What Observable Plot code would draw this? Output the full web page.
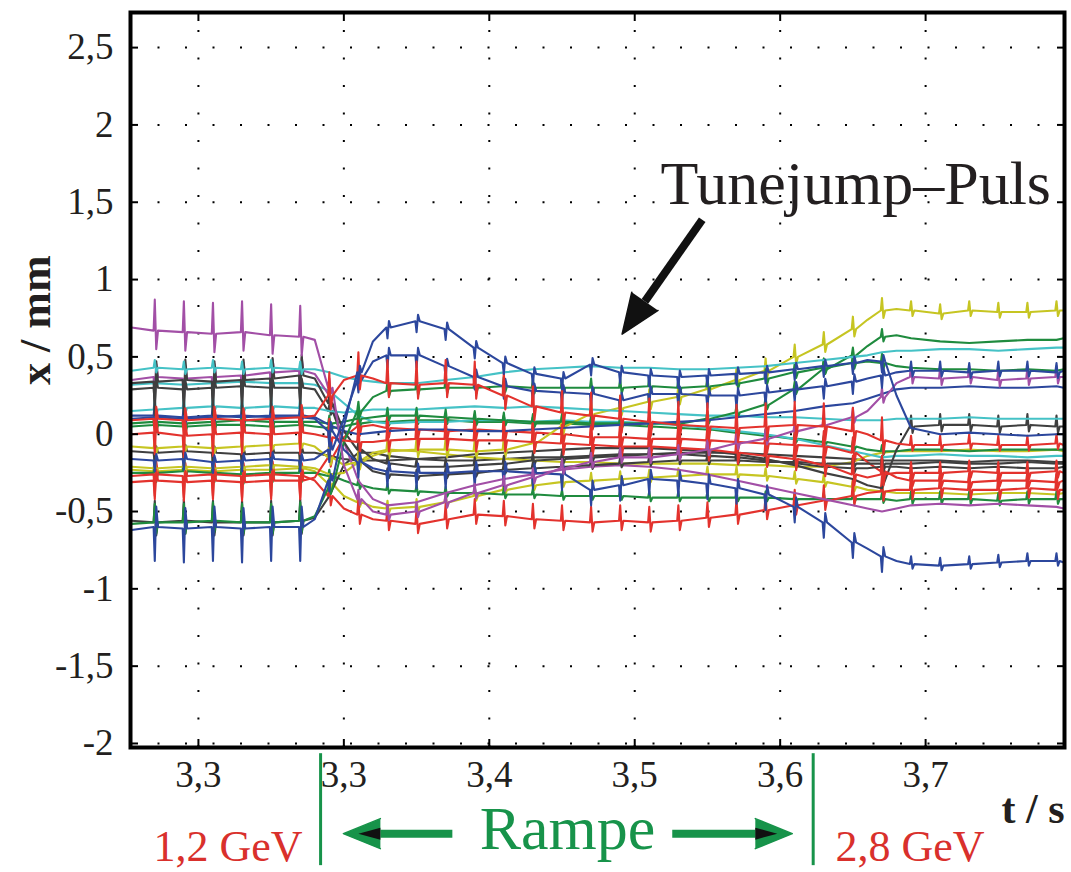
<!DOCTYPE html>
<html>
<head>
<meta charset="utf-8">
<script src="https://cdn.jsdelivr.net/npm/d3@7"></script>
<script src="https://cdn.jsdelivr.net/npm/@observablehq/plot@0.6"></script>
<style>
  html, body { margin: 0; padding: 0; background: #fff; }
  #chart svg { display: block; }
</style>
</head>
<body>
<div id="chart"></div>
<script>
// ---------- axes ----------
const xTicks = [3.2, 3.3, 3.4, 3.5, 3.6, 3.7];
const xTickLabels = ["3,3", "3,3", "3,4", "3,5", "3,6", "3,7"];
const yTicks = [2.5, 2, 1.5, 1, 0.5, 0, -0.5, -1, -1.5, -2];
const yTickLabels = ["2,5", "2", "1,5", "1", "0,5", "0", "-0,5", "-1", "-1,5", "-2"];

// ---------- sample times (s) ----------
const T = [3.154, 3.17, 3.19, 3.21, 3.23, 3.25, 3.27, 3.28, 3.29, 3.30, 3.31, 3.32, 3.33,
  3.35, 3.37, 3.39, 3.41, 3.43, 3.45, 3.47, 3.49, 3.51, 3.53, 3.55, 3.57, 3.59, 3.61, 3.63,
  3.65, 3.66, 3.67, 3.68, 3.69, 3.71, 3.73, 3.75, 3.77, 3.79, 3.795];
// times of the periodic pulses
const spikeTimes = [3.17, 3.19, 3.21, 3.23, 3.25, 3.27, 3.29, 3.31, 3.33, 3.35, 3.37, 3.39,
  3.41, 3.43, 3.45, 3.47, 3.49, 3.51, 3.53, 3.55, 3.57, 3.59, 3.61, 3.63, 3.65, 3.67, 3.69,
  3.71, 3.73, 3.75, 3.77, 3.79];
const spikeRegionBounds = [3.28, 3.68];

// ---------- series values x / mm ----------
const magentaA = [0.69,0.67,0.66,0.65,0.66,0.64,0.63,0.61,0.30,-0.20,-0.42,-0.50,-0.52,-0.50,-0.44,-0.38,-0.33,-0.28,-0.22,-0.18,-0.15,-0.15,-0.13,-0.10,-0.06,-0.03,0.02,0.06,0.11,0.15,0.24,0.33,0.37,0.36,0.37,0.35,0.36,0.37,0.37];
const magentaB = [0.35,0.37,0.36,0.37,0.38,0.40,0.41,0.39,0.25,-0.05,-0.30,-0.42,-0.46,-0.44,-0.38,-0.33,-0.29,-0.26,-0.23,-0.21,-0.20,-0.21,-0.23,-0.26,-0.30,-0.34,-0.38,-0.42,-0.46,-0.48,-0.50,-0.48,-0.46,-0.45,-0.46,-0.45,-0.46,-0.47,-0.48];
const cyanA = [0.41,0.43,0.42,0.43,0.42,0.43,0.42,0.42,0.40,0.37,0.35,0.34,0.33,0.33,0.35,0.37,0.40,0.42,0.43,0.44,0.43,0.43,0.42,0.42,0.43,0.44,0.46,0.48,0.50,0.51,0.53,0.54,0.54,0.55,0.55,0.54,0.55,0.56,0.56];
const cyanB = [0.32,0.33,0.32,0.33,0.34,0.33,0.33,0.32,0.28,0.20,0.12,0.08,0.07,0.08,0.08,0.09,0.09,0.08,0.09,0.08,0.08,0.07,0.06,0.04,0.02,0.00,-0.03,-0.07,-0.11,-0.13,-0.15,-0.14,-0.14,-0.13,-0.14,-0.14,-0.15,-0.14,-0.14];
const cyanC = [0.15,0.16,0.17,0.18,0.17,0.18,0.17,0.17,0.15,0.14,0.15,0.16,0.16,0.16,0.17,0.18,0.17,0.18,0.17,0.16,0.15,0.14,0.13,0.12,0.12,0.11,0.11,0.10,0.09,0.09,0.09,0.10,0.10,0.10,0.11,0.10,0.10,0.10,0.10];
const grayA = [0.33,0.34,0.35,0.34,0.35,0.36,0.38,0.36,0.20,0.02,-0.10,-0.16,-0.19,-0.21,-0.21,-0.20,-0.19,-0.17,-0.16,-0.15,-0.14,-0.13,-0.13,-0.14,-0.15,-0.17,-0.19,-0.21,-0.22,-0.22,-0.21,-0.21,-0.22,-0.21,-0.22,-0.21,-0.22,-0.22,-0.21];
const grayB = [0.29,0.30,0.29,0.30,0.31,0.30,0.30,0.29,0.15,-0.05,-0.18,-0.24,-0.26,-0.27,-0.26,-0.25,-0.23,-0.22,-0.21,-0.20,-0.19,-0.18,-0.17,-0.17,-0.17,-0.18,-0.18,-0.19,-0.19,-0.19,-0.19,-0.19,-0.19,-0.18,-0.19,-0.19,-0.18,-0.19,-0.19];
const grayC = [-0.11,-0.12,-0.11,-0.12,-0.13,-0.12,-0.12,-0.12,-0.14,-0.16,-0.17,-0.17,-0.17,-0.16,-0.15,-0.13,-0.12,-0.11,-0.10,-0.09,-0.09,-0.09,-0.10,-0.11,-0.13,-0.16,-0.20,-0.25,-0.29,-0.33,-0.35,-0.10,0.05,0.06,0.06,0.05,0.06,0.05,0.05];
const grayD = [-0.56,-0.57,-0.56,-0.57,-0.57,-0.57,-0.56,-0.54,-0.40,-0.20,-0.12,-0.12,-0.14,-0.16,-0.17,-0.17,-0.16,-0.15,-0.15,-0.14,-0.13,-0.13,-0.12,-0.12,-0.12,-0.13,-0.14,-0.15,-0.16,-0.17,-0.17,-0.17,-0.17,-0.17,-0.18,-0.17,-0.17,-0.18,-0.18];
const greenA = [0.07,0.08,0.07,0.08,0.09,0.08,0.08,0.08,0.07,0.08,0.10,0.11,0.12,0.12,0.11,0.10,0.09,0.08,0.08,0.07,0.07,0.07,0.07,0.10,0.14,0.19,0.29,0.42,0.51,0.57,0.63,0.64,0.62,0.60,0.59,0.60,0.61,0.61,0.62];
const greenB = [0.05,0.06,0.05,0.06,0.06,0.05,0.06,0.05,0.04,0.05,0.07,0.08,0.08,0.09,0.09,0.08,0.08,0.07,0.07,0.06,0.06,0.05,0.04,0.03,0.01,-0.01,-0.03,-0.05,-0.08,-0.10,-0.11,-0.11,-0.10,-0.10,-0.11,-0.10,-0.10,-0.10,-0.10];
const greenC = [-0.25,-0.25,-0.24,-0.25,-0.26,-0.25,-0.25,-0.25,-0.27,-0.30,-0.33,-0.35,-0.36,-0.37,-0.38,-0.38,-0.39,-0.39,-0.40,-0.40,-0.40,-0.41,-0.41,-0.41,-0.41,-0.41,-0.42,-0.42,-0.42,-0.42,-0.42,-0.43,-0.42,-0.42,-0.42,-0.43,-0.42,-0.42,-0.42];
const greenD = [-0.58,-0.57,-0.57,-0.56,-0.57,-0.57,-0.56,-0.53,-0.35,-0.05,0.15,0.24,0.28,0.29,0.30,0.30,0.31,0.30,0.30,0.30,0.30,0.31,0.30,0.31,0.33,0.36,0.40,0.43,0.46,0.47,0.46,0.44,0.43,0.42,0.42,0.41,0.42,0.41,0.42];
const blueA = [-0.62,-0.60,-0.61,-0.60,-0.61,-0.60,-0.60,-0.55,-0.30,0.05,0.40,0.60,0.69,0.73,0.68,0.56,0.46,0.39,0.36,0.45,0.40,0.38,0.37,0.38,0.39,0.40,0.42,0.44,0.46,0.48,0.47,0.25,0.04,0.00,0.01,0.00,-0.01,0.00,0.00];
const blueB = [-0.16,-0.17,-0.16,-0.18,-0.17,-0.16,-0.17,-0.16,-0.10,0.10,0.35,0.47,0.51,0.51,0.44,0.37,0.31,0.28,0.27,0.26,0.22,0.26,0.26,0.25,0.25,0.27,0.29,0.31,0.34,0.36,0.38,0.40,0.41,0.41,0.40,0.41,0.41,0.40,0.41];
const blueC = [0.10,0.11,0.10,0.11,0.12,0.11,0.11,0.10,0.02,-0.10,-0.18,-0.22,-0.24,-0.25,-0.25,-0.24,-0.24,-0.25,-0.26,-0.36,-0.33,-0.29,-0.30,-0.32,-0.35,-0.39,-0.47,-0.57,-0.70,-0.74,-0.79,-0.82,-0.84,-0.85,-0.84,-0.83,-0.82,-0.82,-0.83];
const blueD = [0.12,0.12,0.11,0.12,0.11,0.12,0.12,0.11,0.06,0.02,0.00,0.01,0.02,0.03,0.03,0.02,0.02,0.03,0.04,0.05,0.06,0.07,0.08,0.09,0.11,0.13,0.15,0.18,0.20,0.23,0.26,0.29,0.30,0.30,0.31,0.30,0.30,0.31,0.30];
const redA = [0.09,0.10,0.09,0.10,0.09,0.10,0.11,0.12,0.25,0.35,0.38,0.36,0.33,0.32,0.33,0.32,0.25,0.18,0.14,0.12,0.10,0.08,0.06,0.05,0.04,0.05,0.06,0.05,0.02,0.00,-0.04,-0.06,-0.07,-0.07,-0.06,-0.07,-0.07,-0.06,-0.07];
const redB = [0.00,0.01,-0.01,0.00,0.01,0.00,0.01,0.00,-0.02,-0.04,-0.05,-0.05,-0.04,-0.03,-0.03,-0.04,-0.04,-0.05,-0.06,-0.07,-0.08,-0.08,-0.09,-0.10,-0.12,-0.14,-0.16,-0.20,-0.26,-0.28,-0.26,-0.25,-0.25,-0.25,-0.24,-0.25,-0.25,-0.24,-0.25];
const redC = [-0.27,-0.26,-0.27,-0.26,-0.27,-0.26,-0.27,-0.30,-0.40,-0.48,-0.52,-0.55,-0.56,-0.58,-0.55,-0.52,-0.53,-0.55,-0.56,-0.57,-0.56,-0.57,-0.56,-0.54,-0.52,-0.49,-0.46,-0.43,-0.40,-0.38,-0.37,-0.36,-0.36,-0.35,-0.36,-0.36,-0.35,-0.36,-0.36];
const redD = [-0.31,-0.30,-0.31,-0.30,-0.31,-0.30,-0.30,-0.28,-0.15,-0.02,0.05,0.06,0.04,0.03,0.02,0.03,0.02,0.01,0.00,-0.02,-0.02,-0.03,-0.03,-0.04,-0.05,-0.06,-0.07,-0.08,-0.12,-0.18,-0.24,-0.28,-0.30,-0.30,-0.31,-0.30,-0.30,-0.31,-0.30];
const yellowA = [-0.08,-0.09,-0.08,-0.09,-0.08,-0.07,-0.06,-0.08,-0.15,-0.20,-0.18,-0.14,-0.11,-0.10,-0.10,-0.11,-0.10,-0.06,0.05,0.13,0.17,0.21,0.24,0.29,0.35,0.41,0.50,0.58,0.68,0.74,0.80,0.81,0.80,0.78,0.80,0.79,0.79,0.80,0.80];
const yellowB = [-0.23,-0.24,-0.23,-0.24,-0.23,-0.23,-0.22,-0.24,-0.32,-0.40,-0.44,-0.47,-0.48,-0.47,-0.44,-0.40,-0.36,-0.33,-0.31,-0.30,-0.29,-0.28,-0.27,-0.26,-0.26,-0.27,-0.29,-0.31,-0.34,-0.36,-0.37,-0.38,-0.38,-0.38,-0.39,-0.38,-0.38,-0.39,-0.38];
const yellowC = [-0.21,-0.22,-0.21,-0.22,-0.21,-0.20,-0.21,-0.22,-0.26,-0.25,-0.18,-0.12,-0.10,-0.11,-0.13,-0.15,-0.16,-0.17,-0.18,-0.18,-0.19,-0.19,-0.19,-0.19,-0.20,-0.20,-0.21,-0.21,-0.18,-0.14,-0.12,-0.11,-0.11,-0.11,-0.10,-0.11,-0.11,-0.10,-0.11];

// drawing order, colours and pulse amplitudes per series: [before ramp, during ramp, after]
const seriesNames = ["yellowB","greenC","grayD","redC","yellowC","greenB","cyanB","grayC","magentaB","redD","grayB","yellowA","cyanC","greenA","blueD","grayA","greenD","cyanA","redB","blueC","magentaA","blueB","redA","blueA"];
const seriesValues = {magentaA, magentaB, cyanA, cyanB, cyanC, grayA, grayB, grayC, grayD, greenA, greenB, greenC, greenD, blueA, blueB, blueC, blueD, redA, redB, redC, redD, yellowA, yellowB, yellowC};
const seriesColors = {
  magentaA: "#a24fa6", magentaB: "#a24fa6",
  cyanA: "#45c2c6", cyanB: "#45c2c6", cyanC: "#45c2c6",
  grayA: "#3f3f3f", grayB: "#3f3f3f", grayC: "#3f3f3f", grayD: "#3f3f3f",
  greenA: "#1f8b3e", greenB: "#1f8b3e", greenC: "#1f8b3e", greenD: "#1f8b3e",
  blueA: "#2c479d", blueB: "#2c479d", blueC: "#2c479d", blueD: "#2c479d",
  redA: "#e3322d", redB: "#e3322d", redC: "#e3322d", redD: "#e3322d",
  yellowA: "#c6c522", yellowB: "#c6c522", yellowC: "#c6c522"
};
const seriesPulses = {
  magentaA: [0.20, 0.06, 0.07], magentaB: [-0.14, 0, 0],
  cyanA: [0.05, 0, 0], cyanB: [0, 0, 0], cyanC: [0.06, 0, 0],
  grayA: [-0.22, 0.05, 0], grayB: [-0.10, 0.04, 0], grayC: [-0.07, 0, 0.07], grayD: [0.14, 0, 0],
  greenA: [0.10, 0.05, 0], greenB: [0.08, 0.04, 0], greenC: [0.10, 0.04, 0.05], greenD: [0.12, 0.06, 0],
  blueA: [-0.22, -0.07, 0], blueB: [-0.07, -0.08, 0.06], blueC: [0, -0.10, 0.05], blueD: [0.08, 0, 0],
  redA: [-0.13, 0.15, 0.06], redB: [-0.14, 0.12, 0.07], redC: [-0.14, 0.10, 0.10], redD: [-0.12, 0.10, 0.06],
  yellowA: [0.05, 0.08, 0.06], yellowB: [0.10, 0.05, 0], yellowC: [0.06, 0, 0]
};

// ---------- annotations ----------
const rampBounds = [3.284, 3.6227];
const rampLineY = [-2.066, -2.79];
const rampArrowY = -2.583;
const rampArrowShafts = [{x1: 3.3746, x2: 3.3251}, {x1: 3.5258, x2: 3.5829}];
const rampArrowHeads = [{x: 3.3251, rotate: 270}, {x: 3.5829, rotate: 90}];
const pulseArrow = {x1: 3.5464, y1: 1.387, x2: 3.5070, y2: 0.859, rotate: 214.8};

// ---------- build line table ----------
const rows = [];
for (const name of seriesNames) {
  const vals = seriesValues[name];
  if (vals.length !== T.length) throw new Error(name + " has " + vals.length + " values");
  const color = seriesColors[name];
  const amps = seriesPulses[name];
  T.forEach((t, i) => {
    const v = vals[i];
    const isPulse = spikeTimes.includes(t);
    const a = t < spikeRegionBounds[0] ? amps[0] : t < spikeRegionBounds[1] ? amps[1] : amps[2];
    if (isPulse && a !== 0) {
      rows.push({name, color, t: t - 0.0008, v});
      rows.push({name, color, t: t, v: v + a});
      rows.push({name, color, t: t + 0.0010, v: v - 0.6 * a});
      rows.push({name, color, t: t + 0.0022, v});
    } else {
      rows.push({name, color, t, v});
    }
  });
}

const serif = "'Liberation Serif', 'Times New Roman', serif";
const GREEN = "#17934a", RED = "#d9302c", INK = "#231f20";

const chart = Plot.plot({
  width: 1071,
  height: 872,
  marginLeft: 130,
  marginRight: 7,
  marginTop: 12,
  marginBottom: 125,
  x: {domain: [3.1533, 3.7955], axis: null},
  y: {domain: [-2.026, 2.727], axis: null},
  color: {type: "identity"},
  style: {fontFamily: serif, background: "#fff", color: INK},
  marks: [
    Plot.gridX(xTicks, {stroke: "#000", strokeOpacity: 1, strokeWidth: 2, strokeDasharray: "2,25.5", strokeDashoffset: 9.5}),
    Plot.gridY(yTicks, {stroke: "#000", strokeOpacity: 1, strokeWidth: 2, strokeDasharray: "2,25.5"}),
    Plot.line(rows, {x: "t", y: "v", z: "name", stroke: "color", strokeWidth: 2.1, strokeLinejoin: "round"}),
    Plot.frame({stroke: "#000", strokeWidth: 4}),
    // inward tick marks on all four sides
    Plot.axisY(yTicks, {anchor: "left", tickSize: 8, dx: 8, fill: "none", label: null, stroke: "#000", strokeWidth: 2}),
    Plot.axisY(yTicks, {anchor: "right", tickSize: 8, dx: -8, fill: "none", label: null, stroke: "#000", strokeWidth: 2}),
    Plot.axisX(xTicks, {anchor: "top", tickSize: 8, dy: 8, fill: "none", label: null, stroke: "#000", strokeWidth: 2}),
    Plot.axisX(xTicks, {anchor: "bottom", tickSize: 8, dy: -8, fill: "none", label: null, stroke: "#000", strokeWidth: 2}),
    // tick labels
    Plot.axisY(yTicks, {anchor: "left", tickSize: 0, tickPadding: 17, fontSize: 37, fontFamily: serif, fill: INK, label: null,
      tickFormat: d => yTickLabels[yTicks.indexOf(d)]}),
    Plot.axisX(xTicks, {anchor: "bottom", tickSize: 0, tickPadding: 13, fontSize: 37, fontFamily: serif, fill: INK, label: null,
      tickFormat: d => xTickLabels[xTicks.indexOf(d)]}),
    // axis titles
    Plot.text(["x / mm"], {frameAnchor: "left", lineAnchor: "middle", dx: -95, dy: 5, rotate: -90, fontSize: 44, fontWeight: "bold", fontFamily: serif, fill: INK}),
    Plot.text(["t / s"], {frameAnchor: "bottom-right", lineAnchor: "middle", textAnchor: "end", dx: 0, dy: 62, fontSize: 42, fontWeight: "bold", fontFamily: serif, fill: INK}),
    // tune-jump annotation
    Plot.text(["Tunejump\u2013Puls"], {frameAnchor: "top-left", lineAnchor: "middle", textAnchor: "start", dx: 530, dy: 172, fontSize: 62, fontFamily: serif, fill: INK}),
    Plot.link([pulseArrow], {x1: "x1", y1: "y1", x2: "x2", y2: "y2", stroke: "#111", strokeWidth: 8}),
    Plot.vector([pulseArrow], {x: "x2", y: "y2", rotate: pulseArrow.rotate, length: 40, shape: "spike", r: 16, anchor: "start", fill: "#111", stroke: "#111"}),
    // ramp annotation
    Plot.ruleX(rampBounds, {y1: rampLineY[0], y2: rampLineY[1], stroke: GREEN, strokeWidth: 3}),
    Plot.link(rampArrowShafts, {x1: "x1", x2: "x2", y1: rampArrowY, y2: rampArrowY, stroke: GREEN, strokeWidth: 8}),
    Plot.vector(rampArrowHeads, {x: "x", y: rampArrowY, rotate: "rotate", length: 37, shape: "spike", r: 15, anchor: "start", fill: GREEN, stroke: GREEN}),
    Plot.vector(rampArrowHeads, {x: "x", y: rampArrowY, rotate: "rotate", length: 22, shape: "spike", r: 6, anchor: "start", fill: "#111", stroke: "none"}),
    Plot.text(["Rampe"], {frameAnchor: "bottom", lineAnchor: "middle", dx: -30, dy: 82, fontSize: 62, fontFamily: serif, fill: GREEN}),
    Plot.text(["1,2 GeV"], {frameAnchor: "bottom-left", lineAnchor: "middle", textAnchor: "end", dx: 172, dy: 99, fontSize: 44, fontFamily: serif, fill: RED}),
    Plot.text(["2,8 GeV"], {frameAnchor: "bottom-left", lineAnchor: "middle", textAnchor: "start", dx: 705, dy: 99, fontSize: 44, fontFamily: serif, fill: RED})
  ]
});
document.getElementById("chart").appendChild(chart);
</script>
</body>
</html>
